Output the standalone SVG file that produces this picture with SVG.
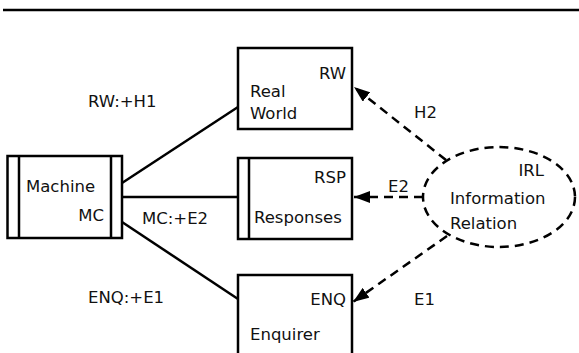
<svg xmlns="http://www.w3.org/2000/svg" width="579" height="353" viewBox="0 0 579 353">
<defs>
<style>
text{font-family:"DejaVu Sans",sans-serif;font-size:16.5px;fill:#111}
.box{fill:#fff;stroke:#000;stroke-width:2.5}
.ln{stroke:#000;stroke-width:2.5;fill:none}
.dash{stroke:#000;stroke-width:2.5;fill:none;stroke-dasharray:9 6}
.r{text-anchor:end}
</style>
<marker id="ah" viewBox="0 0 16 12" refX="16" refY="6" markerWidth="16" markerHeight="12" markerUnits="userSpaceOnUse" orient="auto">
<path d="M0,0 L16,6 L0,12 Z" fill="#000"/>
</marker>
</defs>
<rect width="579" height="353" fill="#fff"/>
<line x1="3" y1="10" x2="579" y2="10" class="ln"/>
<g id="connectors">
<line x1="122" y1="183" x2="238" y2="107" class="ln"/>
<line x1="122" y1="197" x2="238" y2="197" class="ln"/>
<line x1="122" y1="222" x2="238" y2="299" class="ln"/>
<line x1="446" y1="160" x2="354" y2="87" class="dash" marker-end="url(#ah)"/>
<line x1="423" y1="197" x2="354" y2="197" class="dash" marker-end="url(#ah)"/>
<line x1="447" y1="236" x2="353" y2="302" class="dash" marker-end="url(#ah)"/>
<text x="88" y="107">RW:+H1</text>
<text x="142" y="224">MC:+E2</text>
<text x="88" y="303">ENQ:+E1</text>
<text x="414" y="118">H2</text>
<text x="388" y="192">E2</text>
<text x="414" y="305">E1</text>
</g>
<g id="MC">
<rect x="7.5" y="156" width="114.5" height="82" class="box"/>
<line x1="19" y1="156" x2="19" y2="238" class="ln"/>
<line x1="111" y1="156" x2="111" y2="238" class="ln"/>
<text x="26" y="192">Machine</text>
<text x="104" y="221" class="r">MC</text>
</g>
<g id="RW">
<rect x="238" y="48" width="114" height="81" class="box"/>
<text x="346" y="79" class="r">RW</text>
<text x="250" y="97">Real</text>
<text x="250" y="119">World</text>
</g>
<g id="RSP">
<rect x="238" y="158" width="114" height="81" class="box"/>
<line x1="249" y1="158" x2="249" y2="239" class="ln"/>
<text x="346" y="183" class="r">RSP</text>
<text x="254" y="223">Responses</text>
</g>
<g id="ENQ">
<rect x="238" y="275" width="114" height="90" class="box"/>
<text x="346" y="305" class="r">ENQ</text>
<text x="250" y="340">Enquirer</text>
</g>
<g id="IRL">
<ellipse cx="499" cy="197" rx="76" ry="50" fill="#fff" class="dash"/>
<text x="544" y="176" class="r">IRL</text>
<text x="450" y="204">Information</text>
<text x="450" y="229">Relation</text>
</g>
</svg>
